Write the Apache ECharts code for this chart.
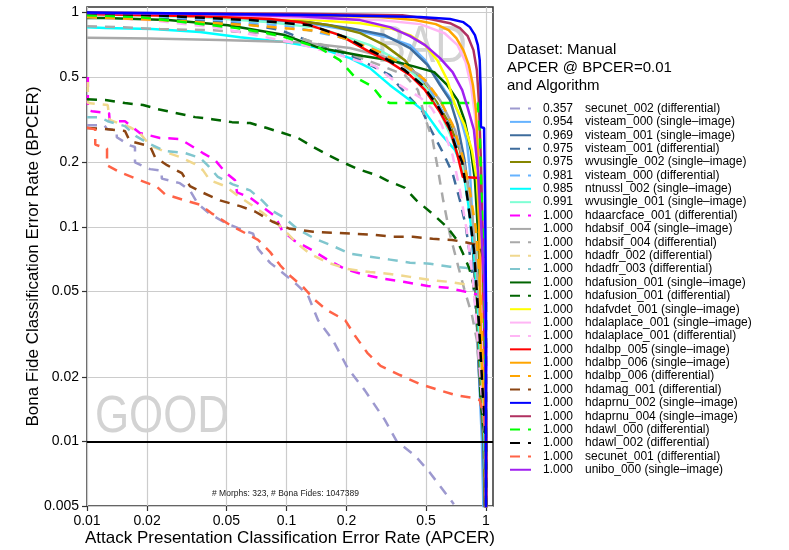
<!DOCTYPE html>
<html>
<head>
<meta charset="utf-8">
<script src="https://cdn.jsdelivr.net/npm/echarts@6/dist/echarts.min.js"></script>
<style>
  html, body { margin: 0; padding: 0; background: #fff; }
  #chart { width: 789px; height: 550px; }
</style>
</head>
<body>
<div id="chart"></div>
<script>
const FONT = '"Liberation Sans", Arial, Helvetica, sans-serif';

// Tick positions on the two log axes
const xTicks = [0.01, 0.02, 0.05, 0.1, 0.2, 0.5, 1];
const yTicks = [0.005, 0.01, 0.02, 0.05, 0.1, 0.2, 0.5, 1];

// Algorithms, in legend order
const algorithmNames = [
  'secunet_002 (differential)',
  'visteam_000 (single–image)',
  'visteam_001 (single–image)',
  'visteam_001 (differential)',
  'wvusingle_002 (single–image)',
  'visteam_000 (differential)',
  'ntnussl_002 (single–image)',
  'wvusingle_001 (single–image)',
  'hdaarcface_001 (differential)',
  'hdabsif_004 (single–image)',
  'hdabsif_004 (differential)',
  'hdadfr_002 (differential)',
  'hdadfr_003 (differential)',
  'hdafusion_001 (single–image)',
  'hdafusion_001 (differential)',
  'hdafvdet_001 (single–image)',
  'hdalaplace_001 (single–image)',
  'hdalaplace_001 (differential)',
  'hdalbp_005 (single–image)',
  'hdalbp_006 (single–image)',
  'hdalbp_006 (differential)',
  'hdamag_001 (differential)',
  'hdaprnu_002 (single–image)',
  'hdaprnu_004 (single–image)',
  'hdawl_000 (differential)',
  'hdawl_002 (differential)',
  'secunet_001 (differential)',
  'unibo_000 (single–image)'
];

// APCER reached at BPCER = 0.01
const apcerAtBpcer001 = [
  '0.357', '0.954', '0.969', '0.975', '0.975', '0.981', '0.985', '0.991',
  '1.000', '1.000', '1.000', '1.000', '1.000', '1.000', '1.000', '1.000',
  '1.000', '1.000', '1.000', '1.000', '1.000', '1.000', '1.000', '1.000',
  '1.000', '1.000', '1.000', '1.000'
];

// DET curves as [APCER, BPCER] pairs
const secunet002Diff = [[0.01,0.298],[0.0122,0.298],[0.0126,0.286],[0.0141,0.282],[0.0141,0.262],[0.0164,0.24],[0.0174,0.236],[0.0174,0.2],[0.0207,0.186],[0.0237,0.183],[0.0237,0.168],[0.0292,0.16],[0.0328,0.148],[0.036,0.128],[0.0413,0.115],[0.0497,0.104],[0.0618,0.096],[0.068,0.093],[0.072,0.079],[0.0828,0.068],[0.098,0.06],[0.113,0.0537],[0.128,0.048],[0.144,0.0367],[0.171,0.0296],[0.203,0.0219],[0.247,0.0173],[0.311,0.0126],[0.357,0.01],[0.44,0.0086],[0.52,0.0072],[0.69,0.0051]];
const visteam000Single = [[0.01,0.993],[0.0368,0.961],[0.117,0.901],[0.254,0.801],[0.33,0.759],[0.416,0.704],[0.495,0.599],[0.54,0.527],[0.62,0.434],[0.7,0.37],[0.75,0.315],[0.8,0.254],[0.83,0.184],[0.85,0.12],[0.87,0.078],[0.9,0.0455],[0.92,0.0215],[0.954,0.01],[0.975,0.004]];
const visteam001Single = [[0.01,0.993],[0.0368,0.961],[0.117,0.911],[0.208,0.845],[0.31,0.784],[0.416,0.682],[0.51,0.568],[0.588,0.458],[0.66,0.39],[0.72,0.299],[0.78,0.205],[0.83,0.133],[0.86,0.078],[0.89,0.0455],[0.92,0.0215],[0.969,0.01],[0.99,0.004]];
const visteam001Diff = [[0.01,0.96],[0.0207,0.945],[0.0438,0.911],[0.0695,0.872],[0.093,0.827],[0.126,0.743],[0.175,0.667],[0.213,0.626],[0.27,0.562],[0.33,0.51],[0.37,0.449],[0.48,0.346],[0.524,0.289],[0.61,0.221],[0.68,0.178],[0.74,0.133],[0.79,0.102],[0.83,0.0742],[0.86,0.0563],[0.89,0.0409],[0.92,0.0266],[0.975,0.01],[0.99,0.004]];
const wvusingle002Single = [[0.01,0.993],[0.0368,0.982],[0.0828,0.951],[0.165,0.872],[0.234,0.801],[0.31,0.704],[0.392,0.599],[0.48,0.473],[0.57,0.378],[0.66,0.299],[0.74,0.228],[0.8,0.165],[0.85,0.108],[0.88,0.063],[0.91,0.033],[0.944,0.0173],[0.975,0.01],[0.99,0.004]];
const visteam000Diff = [[0.01,0.982],[0.0207,0.961],[0.0464,0.921],[0.104,0.863],[0.185,0.767],[0.294,0.667],[0.416,0.55],[0.524,0.434],[0.62,0.332],[0.7,0.254],[0.77,0.184],[0.82,0.12],[0.87,0.07],[0.91,0.0367],[0.955,0.0173],[0.981,0.01],[1.0,0.004]];
const ntnussl002Single = [[0.01,0.854],[0.0123,0.845],[0.0212,0.836],[0.0368,0.81],[0.0585,0.767],[0.098,0.727],[0.147,0.682],[0.208,0.612],[0.262,0.55],[0.33,0.458],[0.416,0.39],[0.495,0.343],[0.588,0.274],[0.7,0.228],[0.77,0.184],[0.81,0.133],[0.86,0.087],[0.9,0.051],[0.93,0.0266],[0.967,0.0156],[0.985,0.01],[1.0,0.004]];
const wvusingle001Single = [[0.01,0.982],[0.0368,0.951],[0.0828,0.901],[0.147,0.845],[0.262,0.704],[0.36,0.599],[0.44,0.51],[0.51,0.434],[0.588,0.343],[0.68,0.254],[0.76,0.194],[0.83,0.133],[0.88,0.087],[0.91,0.051],[0.944,0.0239],[0.991,0.01],[1.0,0.004]];
const hdaarcface001Diff = [[0.0101,0.5],[0.0101,0.35],[0.0106,0.346],[0.0129,0.339],[0.013,0.311],[0.0155,0.311],[0.0184,0.274],[0.0232,0.26],[0.0292,0.257],[0.0328,0.241],[0.0381,0.221],[0.0438,0.205],[0.0493,0.18],[0.0552,0.165],[0.0565,0.145],[0.0657,0.137],[0.0877,0.112],[0.0949,0.0965],[0.11,0.086],[0.134,0.0781],[0.162,0.07],[0.197,0.0636],[0.247,0.0597],[0.311,0.0572],[0.392,0.0554],[0.51,0.053],[0.643,0.052],[0.78,0.05],[0.91,0.0484],[0.967,0.0455],[1.0,0.0296],[1.0,0.004]];
const hdabsif004Single = [[0.01,0.763],[0.0207,0.755],[0.0464,0.743],[0.117,0.727],[0.208,0.682],[0.33,0.612],[0.467,0.51],[0.588,0.39],[0.7,0.283],[0.78,0.194],[0.85,0.12],[0.9,0.063],[0.944,0.0296],[0.978,0.0156],[1.0,0.01],[1.0,0.004]];
const hdabsif004Diff = [[0.01,0.863],[0.0146,0.854],[0.0232,0.836],[0.0413,0.827],[0.0738,0.801],[0.117,0.759],[0.185,0.667],[0.294,0.568],[0.392,0.51],[0.456,0.434],[0.49,0.332],[0.54,0.254],[0.575,0.184],[0.61,0.133],[0.66,0.092],[0.724,0.066],[0.78,0.0509],[0.85,0.0389],[0.9,0.0296],[0.93,0.0193],[0.975,0.0125],[1.0,0.01],[1.0,0.004]];
const hdadfr002Diff = [[0.0101,0.474],[0.0101,0.378],[0.0127,0.37],[0.013,0.315],[0.0164,0.292],[0.0184,0.274],[0.0207,0.24],[0.0246,0.224],[0.0292,0.212],[0.0348,0.196],[0.0381,0.184],[0.0413,0.165],[0.0493,0.155],[0.0564,0.141],[0.0657,0.128],[0.0754,0.117],[0.096,0.0984],[0.111,0.085],[0.131,0.075],[0.162,0.068],[0.203,0.0636],[0.262,0.0616],[0.33,0.0604],[0.416,0.0585],[0.524,0.0566],[0.66,0.0554],[0.81,0.0537],[0.91,0.0525],[0.967,0.0483],[1.0,0.033],[1.0,0.004]];
const hdadfr003Diff = [[0.01,0.325],[0.0116,0.325],[0.0127,0.311],[0.0155,0.295],[0.0176,0.265],[0.0207,0.243],[0.0246,0.226],[0.031,0.221],[0.0368,0.21],[0.0404,0.193],[0.0453,0.171],[0.0538,0.158],[0.0657,0.148],[0.0754,0.133],[0.0847,0.119],[0.098,0.11],[0.113,0.098],[0.139,0.088],[0.171,0.0815],[0.207,0.075],[0.262,0.0727],[0.33,0.0704],[0.416,0.0681],[0.524,0.0674],[0.66,0.0652],[0.78,0.0646],[0.91,0.0631],[0.967,0.0564],[1.0,0.0367],[1.0,0.004]];
const hdafusion001Single = [[0.01,0.941],[0.0123,0.941],[0.0255,0.921],[0.0509,0.872],[0.098,0.784],[0.147,0.682],[0.242,0.626],[0.33,0.599],[0.43,0.562],[0.55,0.527],[0.64,0.458],[0.72,0.39],[0.78,0.315],[0.84,0.228],[0.88,0.165],[0.91,0.097],[0.944,0.0455],[0.978,0.0193],[1.0,0.01],[1.0,0.004]];
const hdafusion001Diff = [[0.01,0.394],[0.0126,0.39],[0.0155,0.378],[0.0191,0.37],[0.0227,0.354],[0.0282,0.339],[0.0348,0.325],[0.0423,0.318],[0.0533,0.308],[0.0657,0.305],[0.0798,0.289],[0.096,0.274],[0.114,0.26],[0.136,0.236],[0.159,0.218],[0.192,0.2],[0.228,0.186],[0.284,0.174],[0.318,0.165],[0.392,0.152],[0.448,0.133],[0.534,0.116],[0.637,0.1],[0.714,0.087],[0.765,0.0755],[0.822,0.0646],[0.86,0.0552],[0.89,0.0456],[0.92,0.0296],[0.94,0.0156],[0.967,0.012],[1.0,0.0101],[1.0,0.004]];
const hdafvdet001Single = [[0.01,0.982],[0.0368,0.961],[0.117,0.931],[0.234,0.891],[0.33,0.845],[0.416,0.784],[0.495,0.704],[0.57,0.599],[0.64,0.484],[0.7,0.37],[0.78,0.299],[0.85,0.228],[0.9,0.165],[0.93,0.097],[0.967,0.0455],[1.0,0.0193],[1.0,0.004]];
const hdalaplace001Single = [[0.01,0.982],[0.0368,0.961],[0.117,0.941],[0.294,0.921],[0.467,0.882],[0.62,0.8],[0.72,0.704],[0.79,0.587],[0.84,0.458],[0.88,0.332],[0.91,0.205],[0.93,0.108],[0.955,0.0455],[0.978,0.0193],[1.0,0.0101],[1.0,0.004]];
const hdalaplace001Diff = [[0.01,0.951],[0.0207,0.921],[0.0464,0.845],[0.093,0.743],[0.117,0.711],[0.185,0.632],[0.278,0.562],[0.37,0.458],[0.467,0.402],[0.534,0.358],[0.6,0.299],[0.68,0.216],[0.74,0.148],[0.8,0.097],[0.86,0.0565],[0.91,0.0296],[0.955,0.0156],[1.0,0.01],[1.0,0.004]];
const hdalbp005Single = [[0.01,0.982],[0.0368,0.961],[0.0828,0.931],[0.117,0.901],[0.185,0.784],[0.262,0.653],[0.33,0.586],[0.416,0.51],[0.495,0.434],[0.588,0.343],[0.66,0.283],[0.72,0.216],[0.765,0.171],[0.93,0.169],[0.955,0.097],[0.978,0.0367],[1.0,0.0126],[1.0,0.004]];
const hdalbp006Single = [[0.01,0.998],[0.0368,0.987],[0.117,0.971],[0.294,0.951],[0.44,0.921],[0.56,0.882],[0.65,0.827],[0.71,0.759],[0.77,0.667],[0.82,0.568],[0.86,0.458],[0.89,0.35],[0.91,0.228],[0.92,0.133],[0.93,0.07],[0.943,0.0266],[1.0,0.0101],[1.0,0.004]];
const hdalbp006Diff = [[0.01,0.951],[0.0232,0.921],[0.0657,0.872],[0.147,0.818],[0.208,0.743],[0.294,0.653],[0.392,0.568],[0.495,0.484],[0.588,0.39],[0.68,0.299],[0.76,0.216],[0.83,0.148],[0.89,0.097],[0.93,0.0565],[0.967,0.0266],[1.0,0.0126],[1.0,0.004]];
const hdamag001Diff = [[0.01,0.289],[0.0123,0.286],[0.0155,0.28],[0.0164,0.251],[0.0207,0.238],[0.0219,0.212],[0.0252,0.194],[0.0299,0.178],[0.0328,0.155],[0.0377,0.145],[0.0464,0.133],[0.0585,0.125],[0.0695,0.118],[0.0847,0.106],[0.104,0.098],[0.136,0.095],[0.171,0.094],[0.216,0.093],[0.272,0.092],[0.343,0.09],[0.43,0.09],[0.54,0.088],[0.677,0.087],[0.83,0.084],[0.93,0.082],[0.978,0.07],[1.0,0.0455],[1.0,0.004]];
const hdaprnu002Single = [[0.01,0.998],[0.0207,0.993],[0.0368,0.987],[0.0828,0.979],[0.165,0.971],[0.294,0.961],[0.467,0.951],[0.66,0.931],[0.77,0.901],[0.83,0.854],[0.88,0.784],[0.91,0.704],[0.93,0.599],[0.94,0.434],[0.943,0.292],[0.978,0.289],[0.989,0.133],[1.0,0.0455],[1.0,0.004]];
const hdaprnu004Single = [[0.01,0.993],[0.117,0.985],[0.38,0.97],[0.38,0.951],[0.524,0.931],[0.66,0.891],[0.74,0.845],[0.81,0.775],[0.865,0.667],[0.9,0.538],[0.92,0.39],[0.943,0.205],[0.967,0.0783],[0.989,0.0275],[1.0,0.0101],[1.0,0.004]];
const hdawl000Diff = [[0.01,0.971],[0.0184,0.951],[0.0276,0.911],[0.0564,0.845],[0.0798,0.801],[0.098,0.767],[0.147,0.682],[0.185,0.599],[0.22,0.5],[0.268,0.453],[0.305,0.39],[0.33,0.378],[0.91,0.378],[0.93,0.283],[0.967,0.078],[1.0,0.0156],[1.0,0.004]];
const hdawl002Diff = [[0.01,0.993],[0.0207,0.971],[0.0657,0.921],[0.131,0.872],[0.197,0.767],[0.294,0.632],[0.392,0.538],[0.48,0.458],[0.57,0.37],[0.648,0.299],[0.7,0.241],[0.76,0.2],[0.81,0.133],[0.87,0.078],[0.92,0.0367],[0.967,0.0156],[1.0,0.01],[1.0,0.004]];
const secunet001Diff = [[0.01,0.29],[0.011,0.285],[0.011,0.242],[0.0126,0.232],[0.0126,0.194],[0.0146,0.18],[0.0184,0.165],[0.0224,0.154],[0.0246,0.142],[0.031,0.133],[0.0368,0.127],[0.0426,0.115],[0.0522,0.102],[0.072,0.087],[0.0828,0.0763],[0.093,0.0662],[0.106,0.0584],[0.121,0.0525],[0.139,0.0456],[0.159,0.041],[0.197,0.0367],[0.22,0.0312],[0.254,0.0259],[0.296,0.0225],[0.37,0.0204],[0.467,0.0185],[0.588,0.0173],[0.71,0.0164],[0.85,0.016],[0.93,0.0156],[0.975,0.013],[1.0,0.0101],[1.0,0.004]];
const unibo000Single = [[0.01,0.993],[0.0368,0.982],[0.117,0.961],[0.234,0.921],[0.33,0.854],[0.416,0.775],[0.495,0.704],[0.588,0.612],[0.68,0.527],[0.76,0.434],[0.81,0.358],[0.87,0.283],[0.91,0.184],[0.943,0.107],[0.978,0.0565],[1.0,0.0266],[1.0,0.004]];

const curves = [
  secunet002Diff, visteam000Single, visteam001Single, visteam001Diff,
  wvusingle002Single, visteam000Diff, ntnussl002Single, wvusingle001Single,
  hdaarcface001Diff, hdabsif004Single, hdabsif004Diff, hdadfr002Diff,
  hdadfr003Diff, hdafusion001Single, hdafusion001Diff, hdafvdet001Single,
  hdalaplace001Single, hdalaplace001Diff, hdalbp005Single, hdalbp006Single,
  hdalbp006Diff, hdamag001Diff, hdaprnu002Single, hdaprnu004Single,
  hdawl000Diff, hdawl002Diff, secunet001Diff, unibo000Single
];

// Line colours (one per algorithm)
const lineColors = [
  '#9d99cf', '#66b3ff', '#3e6c9c', '#3e6c9c',
  '#868600', '#66b3ff', '#00ffff', '#7fffd4',
  '#ff00ff', '#a9a9a9', '#a9a9a9', '#f0d88e',
  '#80c6ce', '#006400', '#006400', '#ffff00',
  '#ffb5f5', '#ffb5f5', '#ff0000', '#ffa500',
  '#ffa500', '#8b4513', '#0000ff', '#b03060',
  '#00ff00', '#000000', '#ff6347', '#a020f0'
];

const series = algorithmNames.map((name, i) => ({
  name: name,
  type: 'line',
  data: curves[i],
  showSymbol: false,
  symbol: 'none',
  clip: true,
  silent: true,
  color: lineColors[i],
  itemStyle: { color: lineColors[i] },
  // the hdaprnu_002 curve sits on top of the band near BPCER = 1
  z: name === 'hdaprnu_002 (single–image)' ? 2.5 : 2,
  lineStyle: {
    color: lineColors[i],
    width: 2.5,
    type: name.indexOf('(differential)') >= 0 ? [10, 8] : 'solid'
  }
}));

// Operating point BPCER = 0.01
series.push({
  name: 'bpcer-limit',
  type: 'line',
  data: [],
  z: 3,
  markLine: {
    silent: true,
    symbol: ['none', 'none'],
    label: { show: false },
    lineStyle: { color: '#000', width: 2, type: 'solid' },
    data: [{ yAxis: 0.01 }]
  }
});

const fmtTick = v => String(+Number(v).toPrecision(3));

const chart = echarts.init(document.getElementById('chart'), null, { renderer: 'canvas' });
chart.setOption({
  animation: false,
  backgroundColor: '#ffffff',
  textStyle: { fontFamily: FONT },
  title: {
    text: 'Dataset: Manual\nAPCER @ BPCER=0.01\nand Algorithm',
    left: 507,
    top: 41,
    padding: 0,
    textStyle: { fontSize: 15, lineHeight: 18, fontWeight: 'normal', color: '#000', fontFamily: FONT }
  },
  legend: {
    orient: 'vertical',
    left: 509,
    top: 102.5,
    padding: 0,
    itemWidth: 21,
    itemHeight: 12,
    itemGap: 1.38,
    selectedMode: false,
    itemStyle: { opacity: 0 },
    data: algorithmNames,
    formatter: name => '{v|' + apcerAtBpcer001[algorithmNames.indexOf(name)] + '}{n|' + name + '}',
    textStyle: {
      fontFamily: FONT,
      fontSize: 12,
      color: '#000',
      rich: {
        v: { width: 42, padding: [0, 0, 0, 7], fontSize: 12, fontFamily: FONT, color: '#000', lineHeight: 12 },
        n: { fontSize: 12, fontFamily: FONT, color: '#000', lineHeight: 12 }
      }
    }
  },
  grid: {
    left: 87, right: 296, top: 7, bottom: 44,
    show: true,
    borderColor: '#333333',
    borderWidth: 1.5,
    containLabel: false,
    outerBoundsMode: 'none'
  },
  xAxis: {
    type: 'log',
    logBase: 10,
    min: 0.01,
    max: 1.084,
    axisLine: { show: false },
    axisTick: { show: true, inside: false, length: 5, customValues: xTicks, lineStyle: { color: '#333', width: 1.2 } },
    minorTick: { show: false },
    axisLabel: { customValues: xTicks, formatter: fmtTick, fontSize: 14, color: '#000', margin: 8, fontFamily: FONT },
    splitLine: { show: true, lineStyle: { color: '#cccccc', width: 1.2 } },
    name: 'Attack Presentation Classification Error Rate (APCER)',
    nameLocation: 'middle',
    nameGap: 24,
    nameMoveOverlap: false,
    nameTextStyle: { fontSize: 17, color: '#000', fontFamily: FONT }
  },
  yAxis: {
    type: 'log',
    logBase: 10,
    min: 0.005,
    max: 1.06,
    axisLine: { show: false },
    axisTick: { show: true, inside: false, length: 5, customValues: yTicks, lineStyle: { color: '#333', width: 1.2 } },
    minorTick: { show: false },
    axisLabel: { customValues: yTicks, formatter: fmtTick, fontSize: 14, color: '#000', margin: 8, fontFamily: FONT },
    splitLine: { show: true, lineStyle: { color: '#cccccc', width: 1.2 } },
    name: 'Bona Fide Classification Error Rate (BPCER)',
    nameLocation: 'middle',
    nameGap: 45,
    nameMoveOverlap: false,
    nameTextStyle: { fontSize: 17, color: '#000', fontFamily: FONT }
  },
  graphic: [
    {
      type: 'text', x: 95, y: 418, scaleX: 0.86, z: 1, silent: true,
      style: { text: 'GOOD', x: 0, y: 0, fill: '#d3d3d3', font: '51px ' + FONT, align: 'left', verticalAlign: 'middle' }
    },
    {
      type: 'text', x: 467, y: 48, scaleX: 0.86, z: 1, silent: true,
      style: { text: 'BAD', x: 0, y: 0, fill: '#d3d3d3', font: '51px ' + FONT, align: 'right', verticalAlign: 'middle' }
    },
    {
      type: 'text', x: 285.5, y: 494, z: 5, silent: true,
      style: { text: '# Morphs: 323, # Bona Fides: 1047389', x: 0, y: 0, fill: '#222', font: '8.5px ' + FONT, align: 'center', verticalAlign: 'middle' }
    }
  ],
  series: series
});
</script>
</body>
</html>
